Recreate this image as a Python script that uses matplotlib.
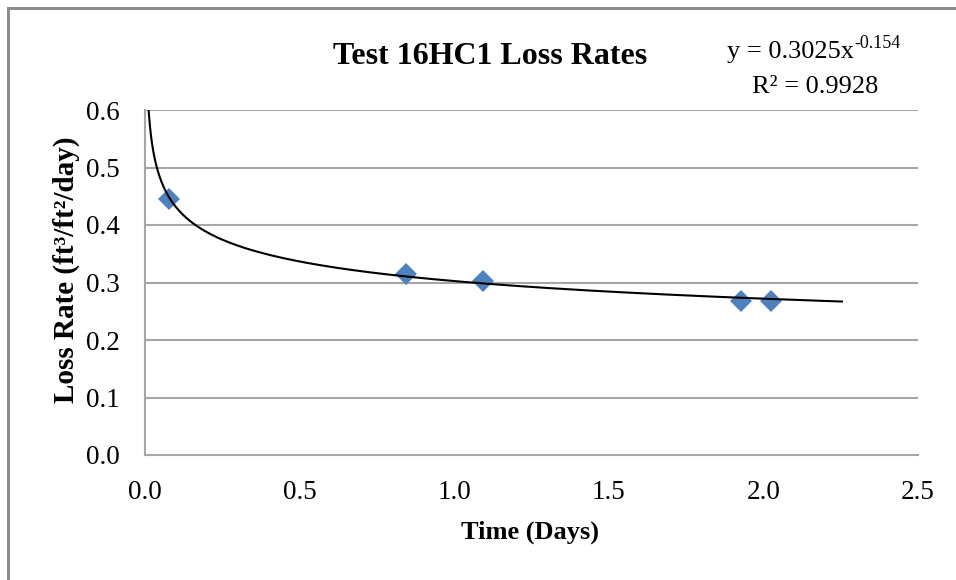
import numpy as np
import matplotlib
matplotlib.use("Agg")
import matplotlib.pyplot as plt
from matplotlib.patches import Rectangle

plt.rcParams['font.family'] = ['Liberation Serif', 'DejaVu Serif']

# measured data (time in days, loss rate in ft3/ft2/day)
time_days = [0.078, 0.843, 1.094, 1.928, 2.024]
loss_rate = [0.445, 0.314, 0.303, 0.268, 0.268]

# power trendline reported by the spreadsheet
fit_coef = 0.3025
fit_exp = -0.154
fit_r2 = 0.9928
fit_x_start = 0.005
fit_x_end = 2.254

x_ticks = [0.0, 0.5, 1.0, 1.5, 2.0, 2.5]
y_ticks = [0.0, 0.1, 0.2, 0.3, 0.4, 0.5, 0.6]

W, H = 956, 580
fig = plt.figure(figsize=(W / 100, H / 100), dpi=100)
ax_l, ax_r, ax_t, ax_b = 145, 918, 110, 455
ax = fig.add_axes([ax_l / W, 1 - ax_b / H, (ax_r - ax_l) / W, (ax_b - ax_t) / H])

# chart border (only top/left visible in the crop)
fig.patches.append(Rectangle((8 / W, -0.1), 1.2, 1 - 8 / H + 0.1,
                             transform=fig.transFigure, fill=False,
                             edgecolor='#8c8c8c', linewidth=2.2))

grid_color = '#a6a6a6'
for yv in y_ticks[1:]:
    ax.axhline(yv, color=grid_color, linewidth=1.5, zorder=1)

# trendline
xf = np.linspace(fit_x_start, fit_x_end, 600)
ax.plot(xf, fit_coef * xf ** fit_exp, color='black', linewidth=1.5, zorder=3)

ax.plot(time_days, loss_rate, linestyle='none', marker='D', markersize=11,
        color='#4f81bd', markeredgewidth=0, zorder=2)

ax.set_xlim(0, 2.5)
ax.set_ylim(0, 0.6)
ax.set_xticks(x_ticks)
ax.set_yticks(y_ticks)
ax.set_xticklabels([f"{v:.1f}" for v in x_ticks])
ax.set_yticklabels([f"{v:.1f}" for v in y_ticks])
ax.tick_params(length=0, labelsize=19.5)
ax.tick_params(axis='y', pad=18)
ax.tick_params(axis='x', pad=18)

for side in ['top', 'right']:
    ax.spines[side].set_visible(False)
for side in ['left', 'bottom']:
    ax.spines[side].set_color(grid_color)
    ax.spines[side].set_linewidth(1.5)

ax.set_xlabel("Time (Days)", fontsize=19, fontweight='bold')
ax.xaxis.set_label_coords((530 - ax_l) / (ax_r - ax_l), -(532 - ax_b) / (ax_b - ax_t))
ax.set_ylabel("Loss Rate (ft³/ft²/day)", fontsize=21, fontweight='bold')
ax.yaxis.set_label_coords(-(ax_l - 66) / (ax_r - ax_l), (ax_b - 270) / (ax_b - ax_t))
ax.yaxis.label.set_va('center')
ax.xaxis.label.set_va('center')

fig.text(490 / W, 1 - 57 / H, "Test 16HC1 Loss Rates", fontsize=23,
         fontweight='bold', ha='center', va='center')
eq = fig.text(727 / W, 1 - 52 / H, f"y = {fit_coef}x", fontsize=19,
              ha='left', va='center')
fig.canvas.draw()
bb = eq.get_window_extent()
fig.text(bb.x1 / W, 1 - 44 / H, f"{fit_exp}", fontsize=13, ha='left', va='center')
fig.text(815 / W, 1 - 87 / H, f"R² = {fit_r2}", fontsize=19,
         ha='center', va='center')

fig.savefig("out.png", dpi=100)
